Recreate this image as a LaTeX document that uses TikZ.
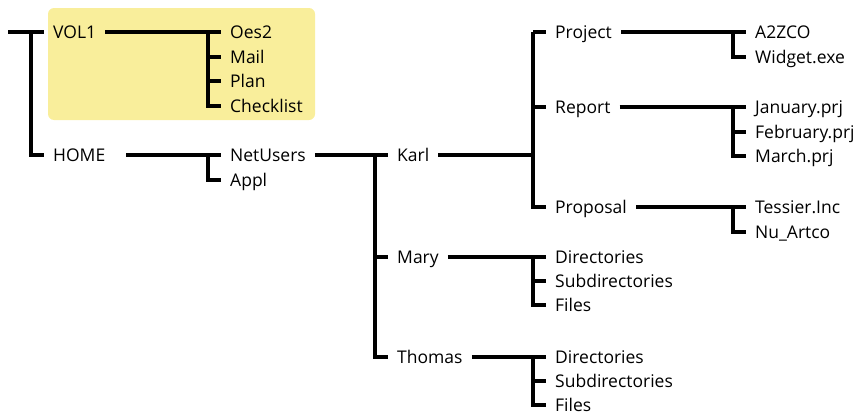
\documentclass[tikz,border=0pt]{standalone}
\usepackage{fontspec}
\setmainfont{Open Sans}
\usetikzlibrary{positioning,calc}
\definecolor{volfill}{RGB}{249,238,155}

\begin{document}
\begin{tikzpicture}[
    x=1pt, y=-1pt,
    entry/.style={anchor=west, inner xsep=9pt, inner ysep=0pt, text height=12.5pt, text depth=0pt, font=\fontsize{17.5}{20}\selectfont},
    link/.style={draw, line width=3.2pt}
]
    \useasboundingbox (0,0) rectangle (861,415);
    \fill[volfill, rounded corners=6pt] (48,8) rectangle (315,120);

    \coordinate (root) at (8,32);
    \node[entry] (vol1) at (44,32) {VOL1};
    \node[entry] (home) at (44,155) {HOME};

    \foreach \n/\t/\y in {oes2/Oes2/32, mail/Mail/57, plan/Plan/81, checklist/Checklist/106, netusers/NetUsers/155, appl/Appl/180}
        \node[entry] (\n) at (221,\y) {\t};

    \foreach \n/\t/\y in {karl/Karl/155, mary/Mary/257, thomas/Thomas/357}
        \node[entry] (\n) at (388,\y) {\t};

    \foreach \n/\t/\y in {project/Project/32, report/Report/107, proposal/Proposal/207,
        mdirs/Directories/257, msubdirs/Subdirectories/281, mfiles/Files/305,
        tdirs/Directories/357, tsubdirs/Subdirectories/381, tfiles/Files/405}
        \node[entry] (\n) at (546,\y) {\t};

    \foreach \n/\t/\y in {a2zco/A2ZCO/32, widget/Widget.exe/57, january/January.prj/107, february/February.prj/132, march/March.prj/156, tessier/Tessier.Inc/207, nuartco/Nu\_Artco/232}
        \node[entry] (\n) at (746,\y) {\t};

    \coordinate (kbar) at ([xshift=-13pt]project.west);

    \draw[link] (root) -- (vol1.west);
    \draw[link] ([xshift=-13pt]vol1.west) |- (home.west);

    \draw[link] (vol1.east) -- (oes2.west);
    \foreach \c in {mail, plan, checklist}
        \draw[link] ([xshift=-13pt]oes2.west) |- (\c.west);

    \draw[link, shorten <=12pt] (home.east) -- (netusers.west);
    \draw[link] ([xshift=-13pt]netusers.west) |- (appl.west);

    \draw[link] (netusers.east) -- (karl.west);
    \foreach \c in {mary, thomas}
        \draw[link] ([xshift=-13pt]karl.west) |- (\c.west);

    \draw[link] (karl.east) -- (karl.east -| kbar);
    \foreach \c in {project, report, proposal}
        \draw[link] (kbar) |- (\c.west);

    \draw[link] (project.east) -- (a2zco.west);
    \draw[link] ([xshift=-13pt]a2zco.west) |- (widget.west);

    \draw[link] (report.east) -- (january.west);
    \foreach \c in {february, march}
        \draw[link] ([xshift=-13pt]january.west) |- (\c.west);

    \draw[link] (proposal.east) -- (tessier.west);
    \draw[link] ([xshift=-13pt]tessier.west) |- (nuartco.west);

    \draw[link] (mary.east) -- (mdirs.west);
    \foreach \c in {msubdirs, mfiles}
        \draw[link] ([xshift=-13pt]mdirs.west) |- (\c.west);

    \draw[link] (thomas.east) -- (tdirs.west);
    \foreach \c in {tsubdirs, tfiles}
        \draw[link] ([xshift=-13pt]tdirs.west) |- (\c.west);
\end{tikzpicture}
\end{document}
